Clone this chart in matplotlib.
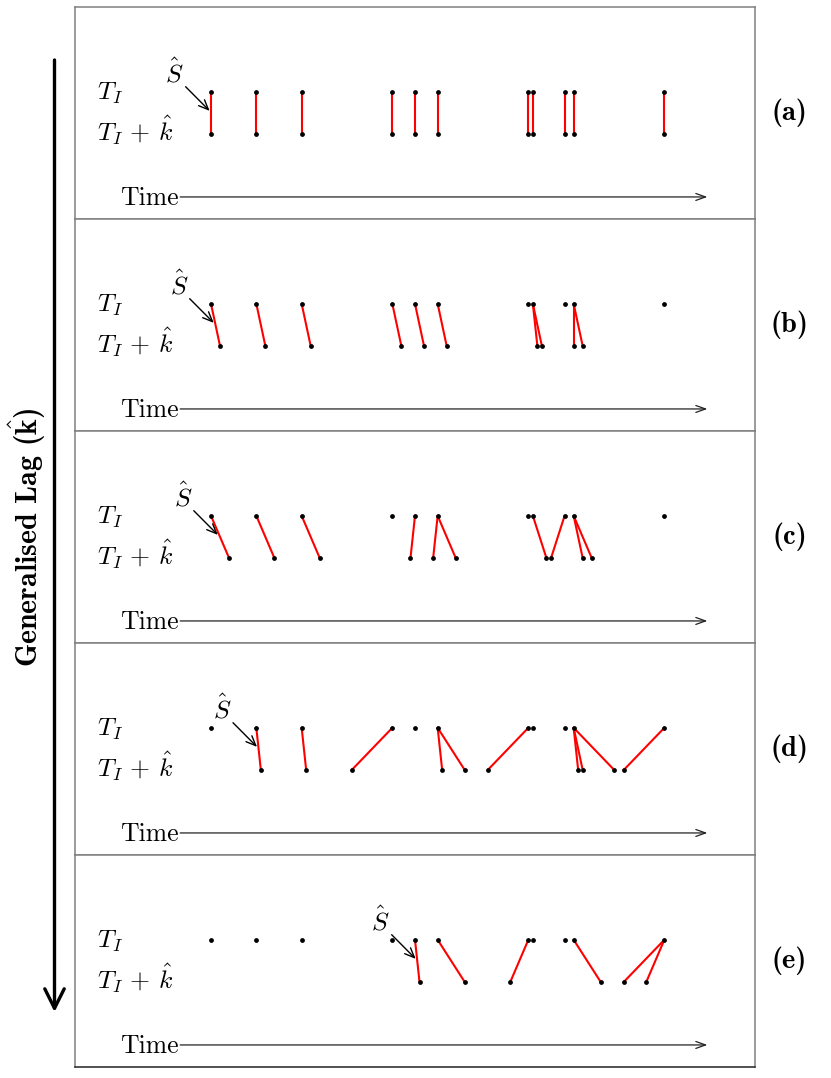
import numpy as np
import matplotlib
matplotlib.use('Agg')
import matplotlib.pyplot as plt

plt.rcParams['mathtext.fontset'] = 'cm'
plt.rcParams['font.family'] = ['DejaVu Serif']

# ---- data ----
event_times = [0, 1, 2, 4, 4.5, 5, 7, 7.1, 7.8, 8, 10]   # T_I
lags = [0.0, 0.2, 0.4, 1.1, 4.6]                         # k-hat per panel
panel_labels = ['(a)', '(b)', '(c)', '(d)', '(e)']
window_end = 10.0
row_labels = [r'$T_I$', r'$T_I\,+\,\hat{k}$']
side_label = r'Generalised Lag ($\hat{\mathbf{k}}$)'

W, H = 831, 1078
fig = plt.figure(figsize=(W / 100, H / 100), dpi=100)

FS = 18.5
t = np.array(event_times, dtype=float)

for i, (lag, lab) in enumerate(zip(lags, panel_labels)):
    top = 7 + 212 * i
    ax = fig.add_axes([75 / W, 1 - (top + 212) / H, 680 / W, 212 / H])
    ax.set_xlim(-3, 12)
    ax.set_ylim(-2, 3)
    ax.set_xticks([])
    ax.set_yticks([])
    for sp in ax.spines.values():
        sp.set_color('#808080')
        sp.set_linewidth(1.1)
    if i == len(lags) - 1:
        ax.spines['bottom'].set_color('#222222')

    shifted = t + lag
    shifted = shifted[shifted <= window_end + 1e-9]
    src = [int(np.argmin(np.abs(t - s))) for s in shifted]

    for j, s in zip(src, shifted):
        ax.plot([t[j], s], [1, 0], color='#ff0000', lw=1.5, zorder=2,
                solid_capstyle='round')
    ax.scatter(t, np.ones_like(t), s=12, color='black', zorder=3, linewidths=0)
    ax.scatter(shifted, np.zeros_like(shifted), s=12, color='black', zorder=3,
               linewidths=0)

    # row labels
    ax.text(-2.52, 1 - 0.19, row_labels[0], fontsize=FS, ha='left', va='baseline')
    ax.text(-2.52, 0 - 0.15, row_labels[1], fontsize=FS, ha='left', va='baseline')

    # S-hat annotation on the first matched line
    j0 = min(src)
    s0 = shifted[src.index(j0)]
    f = 0.45
    tip = (t[j0] + f * (s0 - t[j0]) - 0.03, 1 - f)
    ax.annotate('', xy=tip, xytext=(tip[0] - 0.53, tip[1] + 0.57),
                arrowprops=dict(arrowstyle='->,head_length=0.7,head_width=0.3',
                                color='black', lw=1.0, shrinkA=0, shrinkB=0))
    ax.text(tip[0] - 0.77, tip[1] + 0.89, r'$\hat{S}$', fontsize=18.5,
            ha='center', va='center')

    # time axis
    ax.text(-0.72, -1.67, 'Time', family='cmr10', fontsize=18.5, ha='right',
            va='baseline')
    ax.annotate('', xy=(10.95, -1.48), xytext=(-0.68, -1.48),
                arrowprops=dict(arrowstyle='->,head_length=0.7,head_width=0.25',
                                color='#222222', lw=0.9, shrinkA=0, shrinkB=0))

    # panel label
    ax.text(1.051, 0.5, lab, family='cmb10', transform=ax.transAxes,
            fontsize=20.5, ha='center', va='center')

# big left arrow
fig.add_artist(matplotlib.patches.FancyArrowPatch(
    (54.5 / W, 1 - 60 / H), (54.5 / W, 1 - 1012 / H),
    transform=fig.transFigure, arrowstyle='->,head_length=0.7,head_width=0.35',
    color='black', lw=2.4, shrinkA=0, shrinkB=0, mutation_scale=20))
fig.text(27 / W, 1 - 537 / H, side_label, family='cmb10', rotation=90,
         fontsize=21.5, ha='center', va='center')

fig.savefig('out.png', dpi=100)
